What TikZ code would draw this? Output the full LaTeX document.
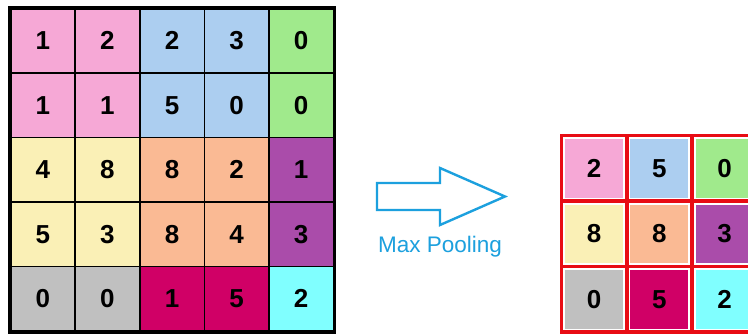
\documentclass[tikz,border=0pt]{standalone}
\usepackage{fontspec}
\setmainfont{Liberation Sans}
\begin{document}
\definecolor{cpink}{RGB}{246,168,214}
\definecolor{cblue}{RGB}{172,206,240}
\definecolor{cgreen}{RGB}{160,234,140}
\definecolor{cyellow}{RGB}{250,240,182}
\definecolor{cpeach}{RGB}{250,186,148}
\definecolor{cpurple}{RGB}{170,76,170}
\definecolor{cgray}{RGB}{192,192,192}
\definecolor{ccrimson}{RGB}{208,0,102}
\definecolor{ccyan}{RGB}{128,255,255}
\definecolor{poolblue}{RGB}{28,160,222}
\definecolor{gridred}{RGB}{232,12,20}
\begin{tikzpicture}[x=1pt,y=-1pt,
  incell/.style={draw=black, line width=1.6pt, minimum width=64.6pt, minimum height=64.5pt,
    inner sep=0pt, font=\fontsize{26}{26}\selectfont\bfseries, text=black},
  outframe/.style={draw=gridred, line width=3.6pt, fill=white, minimum width=65.2pt,
    minimum height=65.5pt, inner sep=0pt},
  outcell/.style={minimum width=58pt, minimum height=58.5pt, inner sep=0pt,
    font=\fontsize{26}{26}\selectfont\bfseries, text=black},
  poolarrow/.style={draw=poolblue, line width=2.4pt, line join=miter, fill=white}]
\clip (0,0) rectangle (748,333);
\fill[white] (0,0) rectangle (748,333);

% input feature map, 5x5
\foreach \r/\row in {1/{1/cpink,2/cpink,2/cblue,3/cblue,0/cgreen},
                     2/{1/cpink,1/cpink,5/cblue,0/cblue,0/cgreen},
                     3/{4/cyellow,8/cyellow,8/cpeach,2/cpeach,1/cpurple},
                     4/{5/cyellow,3/cyellow,8/cpeach,4/cpeach,3/cpurple},
                     5/{0/cgray,0/cgray,1/ccrimson,5/ccrimson,2/ccyan}}{
  \foreach \v/\c [count=\k] in \row{
    \node[incell, fill=\c] (a\r\k) at ({10.5+64.6*(\k-0.5)}, {8.5+64.5*(\r-0.5)}) {\v};
  }
}
\draw[line width=3.6pt] (a11.north west) rectangle (a55.south east);

% arrow and caption
\draw[poolarrow] (377,183) -- (440,183) -- (440,168) -- (505,196.5) -- (440,225)
  -- (440,210) -- (377,210) -- cycle;
\node[text=poolblue, font=\fontsize{22.5}{22.5}\selectfont] (cap) at (440,247) {Max Pooling};

% pooled output, 3x3
\foreach \r/\row in {1/{2/cpink,5/cblue,0/cgreen},
                     2/{8/cyellow,8/cpeach,3/cpurple},
                     3/{0/cgray,5/ccrimson,2/ccyan}}{
  \foreach \v/\c [count=\k] in \row{
    \node[outframe] (f\r\k) at ({561.5+65.2*(\k-0.5)}, {135.5+65.5*(\r-0.5)}) {};
    \node[outcell, fill=\c] (b\r\k) at (f\r\k) {\v};
  }
}
\end{tikzpicture}
\end{document}
